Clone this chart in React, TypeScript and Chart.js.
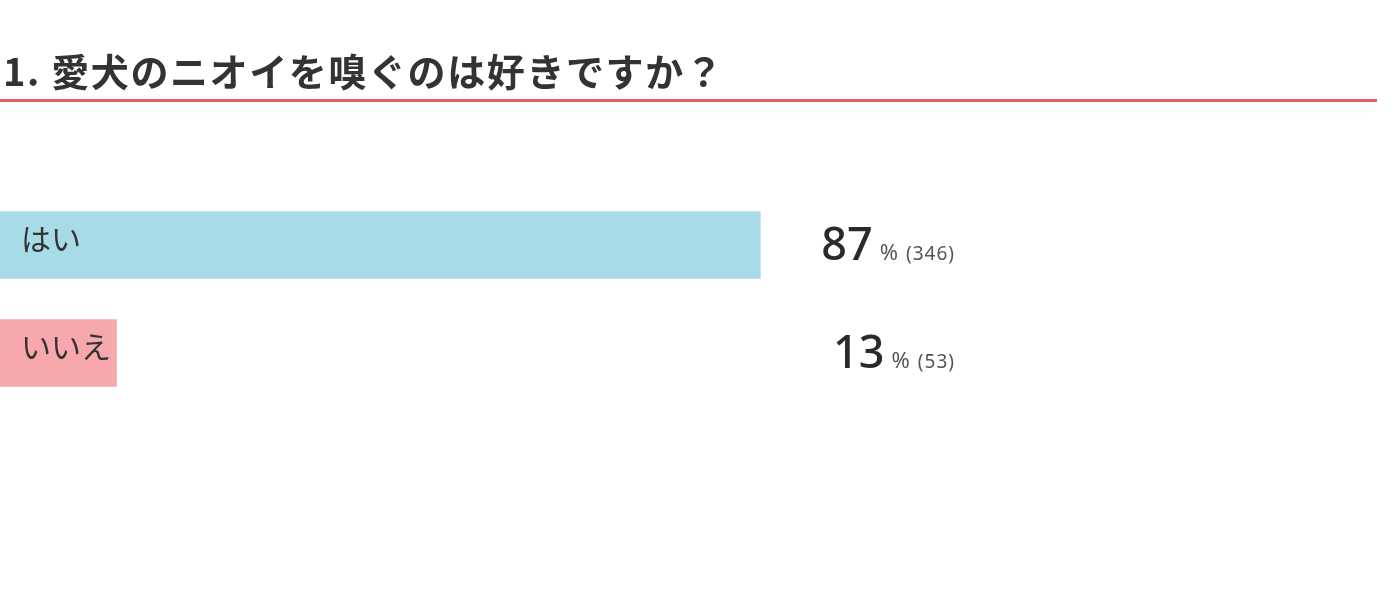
import { useEffect, useRef } from 'react';
import { Chart, registerables, Plugin } from 'chart.js';

Chart.register(...registerables);

const title = '1. 愛犬のニオイを嗅ぐのは好きですか？';
const categories = ['はい', 'いいえ'];
const counts = [346, 53];
const percents = [87, 13];
const barColors = ['#a8dbe8', '#f7a8ac'];

const JP = '"Noto Sans CJK JP", "Noto Sans", sans-serif';
const NUM = '"Noto Sans", "DejaVu Sans", sans-serif';

const decorPlugin: Plugin<'bar'> = {
  id: 'decor',
  afterDatasetsDraw(chart) {
    const ctx = chart.ctx as any;
    const meta = chart.getDatasetMeta(0);
    ctx.save();

    // title + red rule
    ctx.fillStyle = '#333';
    ctx.font = `600 38px ${JP}`;
    ctx.textBaseline = 'middle';
    ctx.textAlign = 'left';
    ctx.letterSpacing = '1.6px';
    ctx.fillText(title, 3, 72);
    ctx.letterSpacing = '0px';
    ctx.fillStyle = '#ee5b69';
    ctx.fillRect(0, 99, 1377, 3);

    meta.data.forEach((bar: any, i: number) => {
      const y = bar.y;
      // category label inside the bar
      ctx.fillStyle = '#333';
      ctx.font = `400 30px ${JP}`;
      ctx.textAlign = 'left';
      ctx.textBaseline = 'middle';
      ctx.fillText(categories[i], 21, y - 6);

      // value label, right-aligned
      const base = y + 15;
      let x = 955;
      ctx.textBaseline = 'alphabetic';
      ctx.textAlign = 'right';
      ctx.fillStyle = '#555';
      ctx.font = `400 19px ${NUM}`;
      ctx.letterSpacing = '1px';
      const cnt = `(${counts[i]})`;
      ctx.fillText(cnt, x, base);
      x -= ctx.measureText(cnt).width + 8;
      ctx.letterSpacing = '0px';
      ctx.font = `400 22px ${NUM}`;
      ctx.fillText('%', x, base);
      x -= ctx.measureText('%').width + 7;
      ctx.fillStyle = '#2a2a2a';
      ctx.font = `500 45px ${NUM}`;
      ctx.fillText(String(percents[i]), x, base);
    });
    ctx.restore();
  },
};

export default function App() {
  const canvasRef = useRef<HTMLCanvasElement>(null);
  const chartRef = useRef<Chart | null>(null);

  useEffect(() => {
    document.body.style.margin = '0';
    if (!canvasRef.current) return;
    const ctx = canvasRef.current.getContext('2d');
    if (!ctx) return;
    if (chartRef.current) chartRef.current.destroy();

    chartRef.current = new Chart(ctx, {
      type: 'bar',
      data: {
        labels: categories,
        datasets: [
          {
            data: counts,
            backgroundColor: barColors,
            borderWidth: 0,
            barThickness: 67,
          },
        ],
      },
      options: {
        indexAxis: 'y',
        responsive: false,
        animation: false,
        layout: { padding: { left: 0, right: 517, top: 191, bottom: 187 } },
        plugins: {
          legend: { display: false },
          tooltip: { enabled: false },
        },
        scales: {
          x: { display: false, min: 0, max: 400 },
          y: { display: false },
        },
      },
      plugins: [decorPlugin],
    });

    return () => {
      if (chartRef.current) {
        chartRef.current.destroy();
        chartRef.current = null;
      }
    };
  }, []);

  return (
    <div style={{ width: 1396, height: 594, background: '#fff' }}>
      <canvas ref={canvasRef} width={1396} height={594} />
    </div>
  );
}
